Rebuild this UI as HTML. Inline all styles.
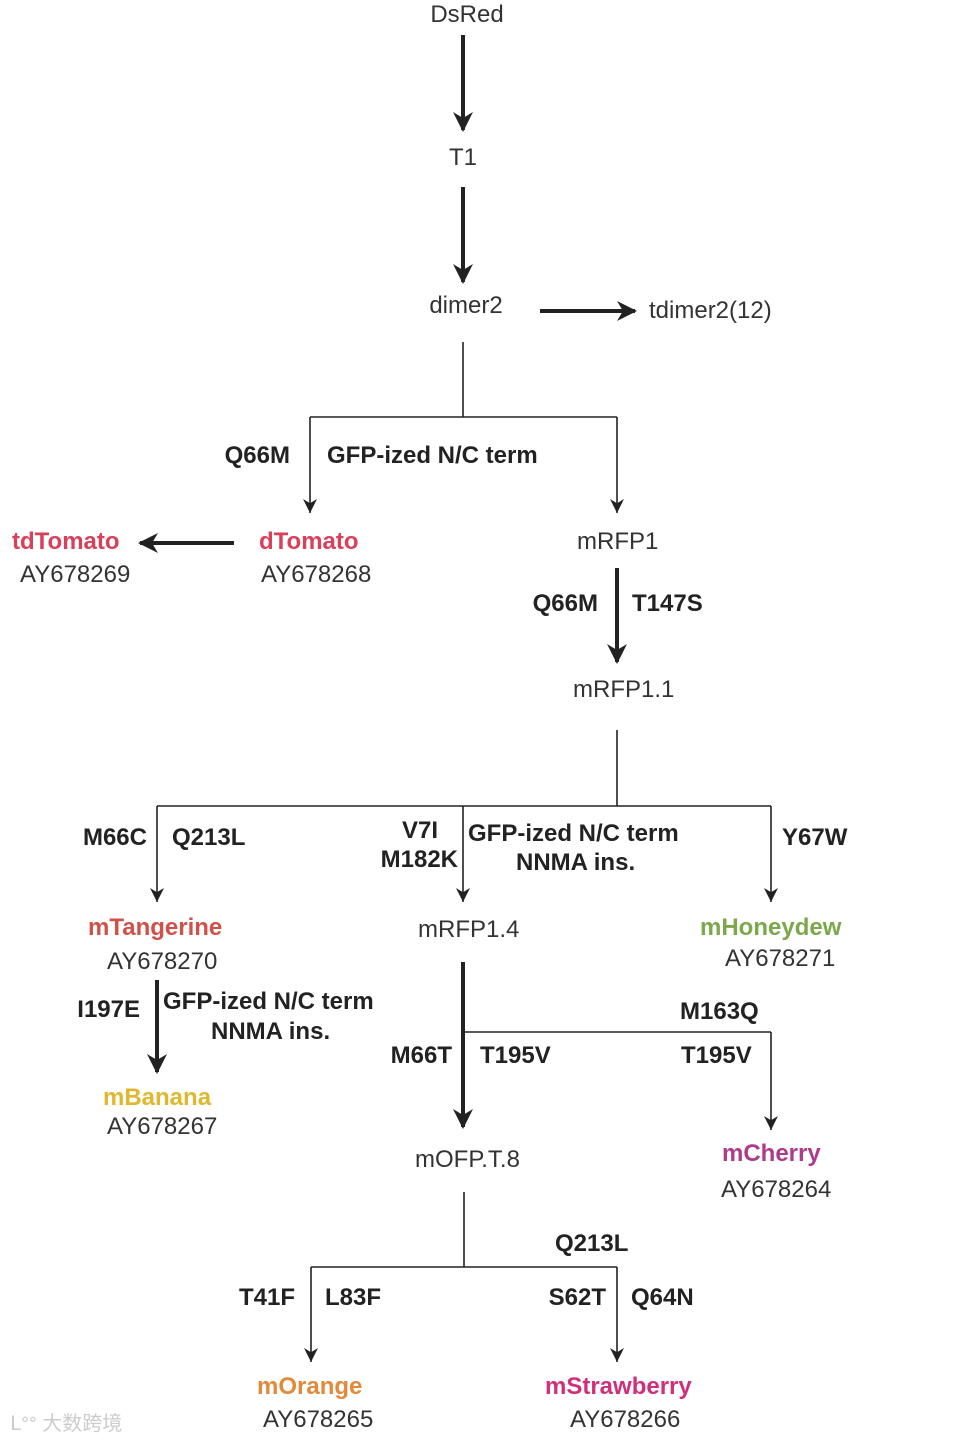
<!DOCTYPE html>
<html><head><meta charset="utf-8"><style>body{margin:0;background:#fff}svg{display:block}</style></head>
<body>
<svg width="964" height="1440" viewBox="0 0 964 1440" xmlns="http://www.w3.org/2000/svg" font-family="Liberation Sans, Arial, sans-serif">
<defs>
<marker id="a" viewBox="0 0 10 10" refX="10" refY="5" markerWidth="18" markerHeight="14" orient="auto" markerUnits="userSpaceOnUse"><path d="M0,0 L10,5 L0,10 L3,5 z" fill="#222"/></marker>
<marker id="b" viewBox="0 0 10 10" refX="9" refY="5" markerWidth="6" markerHeight="5" orient="auto"><path d="M0,0 L10,5 L0,10 L3,5 z" fill="#222"/></marker>
</defs>
<g stroke="#222" fill="none">
<g stroke-width="4" marker-end="url(#b)">
<line x1="463" y1="35" x2="463" y2="130"/>
<line x1="463" y1="187" x2="463" y2="282"/>
<line x1="540" y1="311" x2="635" y2="311"/>
<line x1="234" y1="543" x2="140" y2="543"/>
<line x1="617" y1="568" x2="617" y2="662"/>
<line x1="157" y1="980" x2="157" y2="1072"/>
<line x1="463" y1="962" x2="463" y2="1127"/>
</g>
<g stroke-width="1.6">
<path d="M463 342 V417 M310 417 H617 M617 730 V806 M157 806 H771 M463 1032 H771 M464 1192 V1267 M311 1267 H617"/>
</g>
<g stroke-width="1.6" marker-end="url(#a)">
<path d="M310 417 V513"/><path d="M617 417 V513"/>
<path d="M157 806 V902"/><path d="M463 806 V902"/><path d="M771 806 V902"/>
<path d="M771 1032 V1130"/>
<path d="M311 1267 V1362"/><path d="M617 1267 V1362"/>
</g>
</g>
<g font-size="24" fill="#333">
<text x="467" y="22" text-anchor="middle">DsRed</text>
<text x="463" y="165" text-anchor="middle">T1</text>
<text x="466" y="313" text-anchor="middle">dimer2</text>
<text x="649" y="318">tdimer2(12)</text>
<text x="20" y="582">AY678269</text>
<text x="261" y="582">AY678268</text>
<text x="577" y="549">mRFP1</text>
<text x="573" y="697">mRFP1.1</text>
<text x="107" y="969">AY678270</text>
<text x="418" y="937">mRFP1.4</text>
<text x="725" y="966">AY678271</text>
<text x="107" y="1134">AY678267</text>
<text x="415" y="1167">mOFP.T.8</text>
<text x="721" y="1197">AY678264</text>
<text x="263" y="1427">AY678265</text>
<text x="570" y="1427">AY678266</text>
</g>
<g font-size="24" font-weight="bold" fill="#222">
<text x="290" y="463" text-anchor="end">Q66M</text>
<text x="327" y="463">GFP-ized N/C term</text>
<text x="598" y="611" text-anchor="end">Q66M</text>
<text x="632" y="611">T147S</text>
<text x="147" y="845" text-anchor="end">M66C</text>
<text x="172" y="845">Q213L</text>
<text x="438" y="838" text-anchor="end">V7I</text>
<text x="458" y="867" text-anchor="end">M182K</text>
<text x="468" y="841">GFP-ized N/C term</text>
<text x="516" y="870">NNMA ins.</text>
<text x="782" y="845">Y67W</text>
<text x="140" y="1017" text-anchor="end">I197E</text>
<text x="163" y="1009">GFP-ized N/C term</text>
<text x="211" y="1039">NNMA ins.</text>
<text x="680" y="1019">M163Q</text>
<text x="452" y="1063" text-anchor="end">M66T</text>
<text x="480" y="1063">T195V</text>
<text x="681" y="1063">T195V</text>
<text x="555" y="1251">Q213L</text>
<text x="295" y="1305" text-anchor="end">T41F</text>
<text x="325" y="1305">L83F</text>
<text x="606" y="1305" text-anchor="end">S62T</text>
<text x="631" y="1305">Q64N</text>
</g>
<g font-size="24" font-weight="bold">
<text x="12" y="549" fill="#d9405a">tdTomato</text>
<text x="259" y="549" fill="#d9405a">dTomato</text>
<text x="88" y="935" fill="#d0504a">mTangerine</text>
<text x="700" y="935" fill="#7aa84a">mHoneydew</text>
<text x="103" y="1105" fill="#e0b830">mBanana</text>
<text x="722" y="1161" fill="#b03a8a">mCherry</text>
<text x="257" y="1394" fill="#e08a3a">mOrange</text>
<text x="545" y="1394" fill="#d0307a">mStrawberry</text>
</g>
<text x="10" y="1430" font-size="20" fill="#ccc" font-family="Liberation Sans, Noto Sans CJK SC, sans-serif">ᒪᐤᐤ 大数跨境</text>
</svg>
</body></html>
